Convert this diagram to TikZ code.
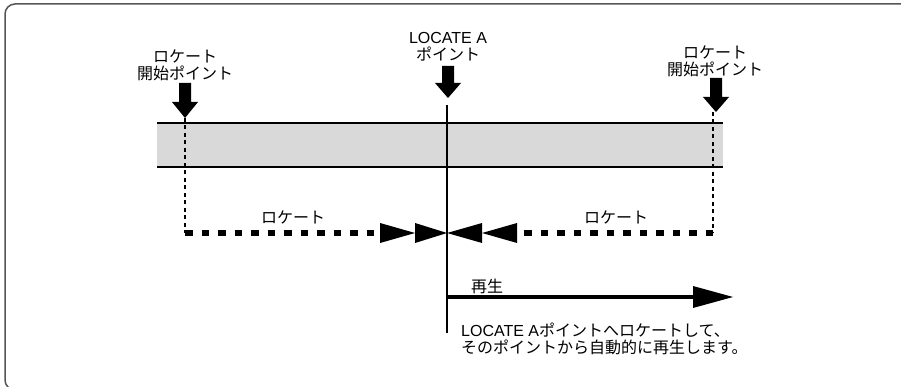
\documentclass[tikz,border=0pt]{standalone}
\usepackage{fontspec}
\setmainfont{Noto Sans CJK JP}
\newfontfamily\lat{Liberation Sans}
\definecolor{barfill}{HTML}{D9D9D9}
\definecolor{framegray}{HTML}{555555}
\tikzset{
  lbl/.style={inner sep=0pt, align=center, font=\fontsize{16}{17}\selectfont},
  thindot/.style={line width=1.8pt, dash pattern=on 4pt off 3.5pt},
  thickdot/.style={line width=6pt, dash pattern=on 7.5pt off 9pt},
  mainline/.style={line width=1.8pt},
  tri/.style={fill=black}
}
\newcommand{\blockarrow}[4]{%
  \fill (#1-6,#2) -- (#1+6,#2) -- (#1+6,#3) -- (#1+13,#3) -- (#1,#4) -- (#1-13,#3) -- (#1-6,#3) -- cycle;}
\begin{document}
\begin{tikzpicture}[x=1pt,y=-1pt]
\useasboundingbox (0,0) rectangle (901,387);
\clip (0,0) rectangle (901,387);
% frame
\draw[framegray, line width=1.5pt, rounded corners=10pt] (5,4) rectangle (940,390);
% bar
\fill[barfill] (157,123) rectangle (723,167);
\draw[line width=2pt] (157,123) -- (723,123);
\draw[line width=2pt] (157,167) -- (723,167);
% coordinates
\coordinate (lc) at (185,233);
\coordinate (rc) at (713,233);
\coordinate (ctr) at (447,233);
% vertical dotted lines
\draw[thindot] (185,118) -- (lc);
\draw[thindot] (713,112) -- (rc);
% center line
\draw[mainline] (447,105) -- (447,333);
% block arrows
\blockarrow{185}{83}{102}{118}
\blockarrow{448}{66}{83}{98}
\blockarrow{716}{78}{97}{112}
% thick dotted lines
\draw[thickdot] (lc) -- (380,233);
\draw[thickdot] (rc) -- (517,233);
% triangles
\fill[tri] (380,223) -- (415,233) -- (380,243) -- cycle;
\fill[tri] (415,223) -- (ctr) -- (415,243) -- cycle;
\fill[tri] (482,223) -- (ctr) -- (482,243) -- cycle;
\fill[tri] (517,223) -- (482,233) -- (517,243) -- cycle;
% play arrow
\coordinate (ps) at (447,297);
\coordinate (pt) at (733,297);
\draw[line width=3.5pt] (ps) -- (695,297);
\fill (693,286) -- (pt) -- (693,308) -- cycle;
% labels
\node[lbl] (lstart) at (185,65) {ロケート\\開始ポイント};
\node[lbl] (locA) at (448,47) {{\lat LOCATE A}\\ポイント};
\node[lbl] (rstart) at (715,61) {ロケート\\開始ポイント};
\node[lbl] (lloc) at (293,217) {ロケート};
\node[lbl] (rloc) at (616,217) {ロケート};
\node[lbl] (play) at (487,286) {再生};
\node[lbl, align=left, anchor=west] (note) at (461,339) {{\lat LOCATE A}ポイントへロケートして、\\そのポイントから自動的に再生します。};
\end{tikzpicture}
\end{document}
